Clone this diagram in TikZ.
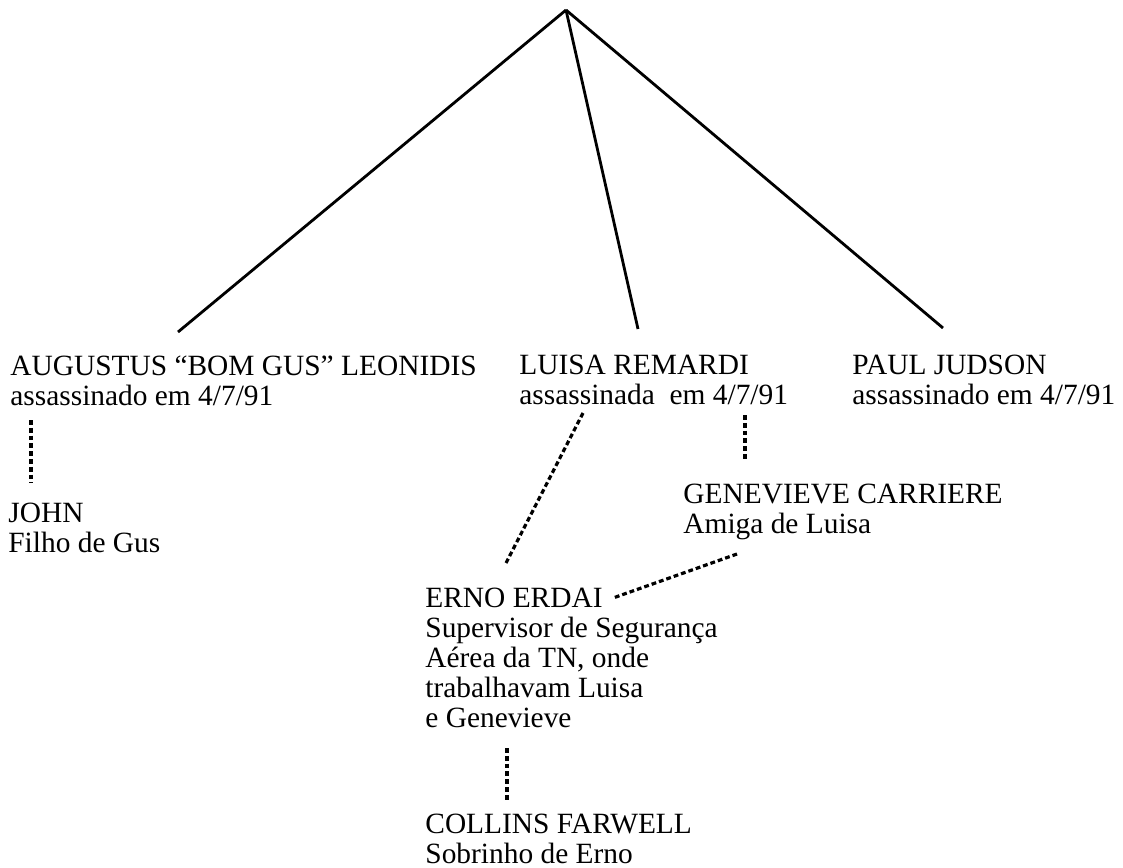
\documentclass[tikz,border=0pt]{standalone}
\usepackage{fontspec}
\setmainfont{Liberation Serif}
\usetikzlibrary{calc}
\tikzset{
	person/.style={anchor=base west, inner sep=0pt, align=left, font=\fontsize{14.7}{15}\selectfont},
	tie/.style={line width=1.4pt, color=black},
	link/.style={line width=1.6pt, color=black, dash pattern=on 2.4pt off 1.5pt}
}

\begin{document}
\begin{tikzpicture}[x=0.5pt, y=-0.5pt]
		%%%%% START %%%%%
		\useasboundingbox (0, 0) rectangle (1123, 867);
		
		\coordinate (top) at (566, 10);
		
		% base west sits on the last line
		\node[person] (gus) at (10, 405) {AUGUSTUS “BOM GUS” LEONIDIS\\assassinado em 4/7/91};
		\node[person] (luisa) at (519, 404) {LUISA REMARDI\\assassinada\ \ em 4/7/91};
		\node[person] (paul) at (852, 404) {PAUL JUDSON\\assassinado em 4/7/91};
		
		\node[person] (john) at (8, 552) {JOHN\\Filho de Gus};
		\node[person] (gen) at (683, 533) {GENEVIEVE CARRIERE\\Amiga de Luisa};
		\node[person] (erno) at (425, 727) {ERNO ERDAI\\Supervisor de Segurança\\Aérea da TN, onde\\trabalhavam Luisa\\e Genevieve};
		\node[person] (collins) at (425, 863) {COLLINS FARWELL\\Sobrinho de Erno};
		
		% the three victims
		\draw[tie] (top) -- ([shift={(168,-73)}]gus.base west);
		\draw[tie] (top) -- ([shift={(119,-75)}]luisa.base west);
		\draw[tie] (top) -- ([shift={(91,-76)}]paul.base west);
		
		% the others
		\draw[link] ([shift={(21,15)}]gus.base west) -- ([shift={(23,-69)}]john.base west);
		\draw[link] ([shift={(64,9)}]luisa.base west) -- ([shift={(80,-162)}]erno.base west);
		\draw[link] ([shift={(226,11)}]luisa.base west) -- ([shift={(62,-73)}]gen.base west);
		\draw[link] ([shift={(54,21)}]gen.base west) -- ([shift={(188,-129)}]erno.base west);
		\draw[link] ([shift={(82,21)}]erno.base west) -- ([shift={(82,-61)}]collins.base west);
		
		%%%%% END %%%%%
	\end{tikzpicture}
\end{document}
